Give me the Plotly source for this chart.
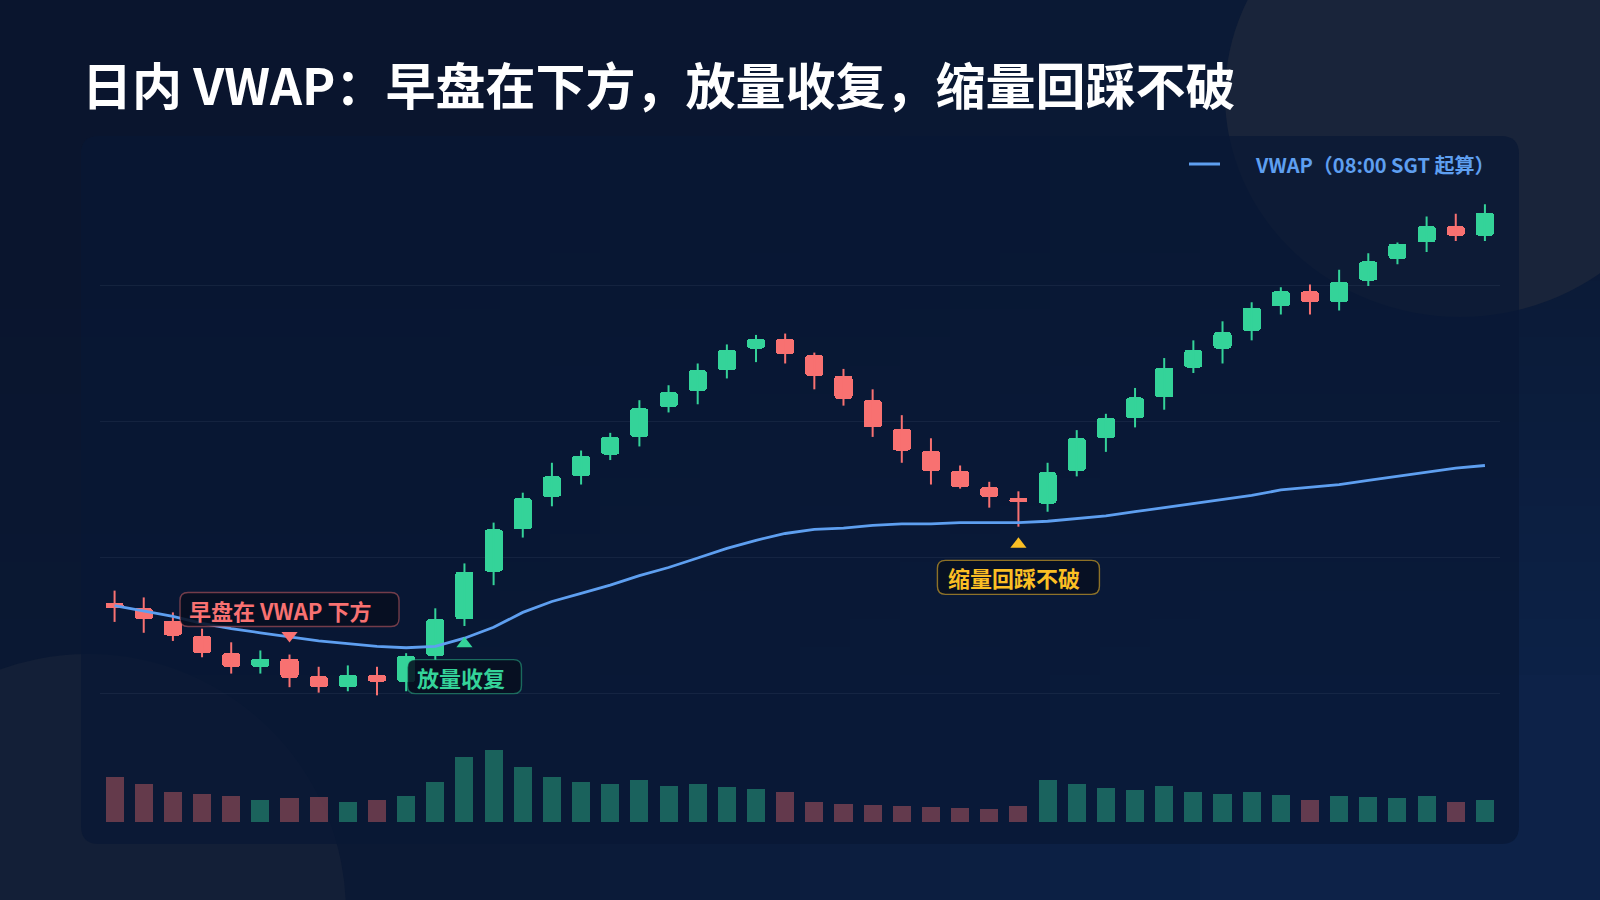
import base64
import struct
import zlib
import plotly.graph_objects as go

# ---------------- data ----------------
times = ["08:00", "08:05", "08:10", "08:15", "08:20", "08:25", "08:30", "08:35", "08:40", "08:45", "08:50", "08:55",
         "09:00", "09:05", "09:10", "09:15", "09:20", "09:25", "09:30", "09:35", "09:40", "09:45", "09:50", "09:55",
         "10:00", "10:05", "10:10", "10:15", "10:20", "10:25", "10:30", "10:35", "10:40", "10:45", "10:50", "10:55",
         "11:00", "11:05", "11:10", "11:15", "11:20", "11:25", "11:30", "11:35", "11:40", "11:45", "11:50", "11:55"]

open_ = [100.67, 100.63, 100.54, 100.43, 100.30, 100.20, 100.26, 100.13, 100.05, 100.14, 100.09, 100.28,
         100.55, 100.90, 101.21, 101.45, 101.60, 101.76, 101.89, 102.11, 102.23, 102.38, 102.54, 102.61,
         102.49, 102.34, 102.16, 101.95, 101.79, 101.64, 101.52, 101.44, 101.40, 101.64, 101.88, 102.03,
         102.18, 102.40, 102.54, 102.67, 102.85, 102.96, 102.88, 103.04, 103.20, 103.32, 103.44, 103.37]
high = [100.76, 100.71, 100.60, 100.48, 100.38, 100.32, 100.29, 100.20, 100.21, 100.20, 100.30, 100.63,
        100.96, 101.26, 101.48, 101.70, 101.79, 101.92, 102.16, 102.27, 102.43, 102.57, 102.64, 102.65,
        102.51, 102.39, 102.24, 102.05, 101.88, 101.68, 101.56, 101.49, 101.70, 101.94, 102.06, 102.25,
        102.47, 102.60, 102.74, 102.88, 102.99, 103.01, 103.12, 103.24, 103.32, 103.51, 103.53, 103.60]
low = [100.53, 100.45, 100.39, 100.27, 100.15, 100.15, 100.05, 100.01, 100.02, 99.99, 100.02, 100.25,
       100.50, 100.80, 101.15, 101.38, 101.54, 101.72, 101.82, 102.07, 102.13, 102.32, 102.44, 102.43,
       102.24, 102.12, 101.89, 101.70, 101.54, 101.51, 101.37, 101.23, 101.34, 101.60, 101.78, 101.96,
       102.09, 102.36, 102.43, 102.60, 102.79, 102.79, 102.82, 103.00, 103.16, 103.25, 103.33, 103.33]
close = [100.63, 100.55, 100.43, 100.30, 100.20, 100.26, 100.12, 100.05, 100.14, 100.09, 100.28, 100.55,
         100.90, 101.21, 101.44, 101.60, 101.75, 101.89, 102.10, 102.22, 102.38, 102.53, 102.61, 102.50,
         102.34, 102.17, 101.96, 101.79, 101.64, 101.52, 101.45, 101.41, 101.63, 101.88, 102.03, 102.18,
         102.40, 102.53, 102.66, 102.84, 102.96, 102.88, 103.03, 103.18, 103.31, 103.44, 103.37, 103.54]
volume = [45, 38, 30, 28, 26, 22, 24, 25, 20, 22, 26, 40,
          65, 72, 55, 45, 40, 38, 42, 36, 38, 35, 33, 30,
          20, 18, 17, 16, 15, 14, 13, 16, 42, 38, 34, 32,
          36, 30, 28, 30, 27, 22, 26, 25, 24, 26, 20, 22]
vwap = [100.65, 100.61, 100.57, 100.52, 100.48, 100.45, 100.42, 100.39, 100.37, 100.35, 100.34, 100.35,
        100.41, 100.49, 100.60, 100.68, 100.74, 100.80, 100.87, 100.93, 101.00, 101.07, 101.13, 101.18,
        101.21, 101.22, 101.24, 101.25, 101.25, 101.26, 101.26, 101.26, 101.27, 101.29, 101.31, 101.34,
        101.37, 101.40, 101.43, 101.46, 101.50, 101.52, 101.54, 101.57, 101.60, 101.63, 101.66, 101.68]

note_index = [6, 12, 31]
note_price = [100.43, 100.37, 101.10]
note_text = ["早盘在 VWAP 下方", "放量收复", "缩量回踩不破"]
note_dir = ["down", "up", "up"]

grid_prices = [100, 101, 102, 103]

title_text = "日内 VWAP：早盘在下方，放量收复，缩量回踩不破"
legend_text = "VWAP（08:00 SGT 起算）"

# ---------------- style ----------------
W, H = 1600, 900
FONT = "Noto Sans CJK SC"
UP = "#34d399"
DOWN = "#f87171"
UP_VOL = "rgba(52,211,153,0.40)"
DOWN_VOL = "rgba(248,113,113,0.38)"
BLUE = "#5e9ff0"
AMBER = "#fbbf24"
note_colors = [DOWN, UP, AMBER]
note_borders = ["rgba(248,113,113,0.45)", "rgba(52,211,153,0.45)", "rgba(251,191,36,0.55)"]
note_box_w = [219, 114, 162]
note_box_h = 34
note_shift = [26, -33, -33]
note_text_dx = [-9, -3, -4]


def px_x(p):
    return p / W


def px_y(p):
    return 1 - p / H


def png_uri(rows):
    w = len(rows[0])
    h = len(rows)
    raw = b"".join(b"\x00" + bytes([c for px in row for c in px]) for row in rows)

    def chunk(tag, data):
        return struct.pack(">I", len(data)) + tag + data + struct.pack(">I", zlib.crc32(tag + data) & 0xffffffff)

    png = (b"\x89PNG\r\n\x1a\n" + chunk(b"IHDR", struct.pack(">IIBBBBB", w, h, 8, 2, 0, 0, 0))
           + chunk(b"IDAT", zlib.compress(raw)) + chunk(b"IEND", b""))
    return "data:image/png;base64," + base64.b64encode(png).decode()


bg_uri = png_uri([[(10, 21, 46), (11, 26, 54)],
                  [(11, 25, 52), (13, 34, 72)]])


def rrect_pixel(cx, cy, w, h, r):
    x0, x1 = cx - w / 2, cx + w / 2
    y0, y1 = cy - h / 2, cy + h / 2
    return (f"M{x0 + r},{y0} L{x1 - r},{y0} Q{x1},{y0} {x1},{y0 + r} L{x1},{y1 - r} Q{x1},{y1} {x1 - r},{y1} "
            f"L{x0 + r},{y1} Q{x0},{y1} {x0},{y1 - r} L{x0},{y0 + r} Q{x0},{y0} {x0 + r},{y0} Z")


def rrect_paper(x0p, y0p, x1p, y1p, r):
    a, b = px_x(x0p), px_x(x1p)
    top, bot = px_y(y0p), px_y(y1p)
    rx, ry = r / W, r / H
    return (f"M{a + rx},{bot} L{b - rx},{bot} Q{b},{bot} {b},{bot + ry} L{b},{top - ry} Q{b},{top} {b - rx},{top} "
            f"L{a + rx},{top} Q{a},{top} {a},{top - ry} L{a},{bot + ry} Q{a},{bot} {a + rx},{bot} Z")


is_up = [c >= o for o, c in zip(open_, close)]

fig = go.Figure()

# wicks
for flag, col in [(True, UP), (False, DOWN)]:
    wx, wy = [], []
    for t, hi, lo, u in zip(times, high, low, is_up):
        if u == flag:
            wx += [t, t, None]
            wy += [lo, hi, None]
    fig.add_trace(go.Scatter(x=wx, y=wy, mode="lines", line=dict(color=col, width=2),
                             hoverinfo="skip", showlegend=False))

# bodies
fig.add_trace(go.Bar(x=times, y=[abs(c - o) for o, c in zip(open_, close)],
                     base=[min(o, c) for o, c in zip(open_, close)],
                     width=0.62, marker=dict(color=[UP if u else DOWN for u in is_up], line=dict(width=0),
                                             cornerradius=3),
                     hoverinfo="skip", showlegend=False))

# vwap
fig.add_trace(go.Scatter(x=times, y=vwap, mode="lines", line=dict(color=BLUE, width=2.8),
                         name=legend_text, hoverinfo="skip", showlegend=False))

# markers
fig.add_trace(go.Scatter(x=[times[i] for i in note_index], y=note_price, mode="markers",
                         marker=dict(symbol=["triangle-down" if d == "down" else "triangle-up" for d in note_dir],
                                     size=14, color=note_colors, line=dict(width=0)),
                         hoverinfo="skip", showlegend=False))

# volume
fig.add_trace(go.Bar(x=times, y=volume, xaxis="x2", yaxis="y2", width=0.62,
                     marker=dict(color=[UP_VOL if u else DOWN_VOL for u in is_up], line=dict(width=0)),
                     hoverinfo="skip", showlegend=False))

shapes = [
    dict(type="circle", xref="paper", yref="paper", layer="below",
         x0=px_x(1225), x1=px_x(1695), y0=px_y(317), y1=px_y(-127),
         fillcolor="#19243a", line=dict(width=0)),
    dict(type="circle", xref="paper", yref="paper", layer="below",
         x0=px_x(88 - 258), x1=px_x(88 + 258), y0=px_y(912 + 258), y1=px_y(912 - 258),
         fillcolor="#131f37", line=dict(width=0)),
    dict(type="path", xref="paper", yref="paper", layer="below",
         path=rrect_paper(81, 136, 1519, 844, 18),
         fillcolor="rgba(9,24,52,0.72)", line=dict(width=0)),
    # legend line
    dict(type="line", xref="paper", yref="paper", layer="above",
         x0=px_x(1189), x1=px_x(1220), y0=px_y(164), y1=px_y(164),
         line=dict(color=BLUE, width=3)),
]

annotations = [
    dict(xref="paper", yref="paper", x=px_x(1253), y=px_y(164), xanchor="left", yanchor="middle",
         text=legend_text, showarrow=False,
         font=dict(family=FONT, size=20, color=BLUE, weight=700)),
]

for k, i in enumerate(note_index):
    shapes.append(dict(type="path", xref="x", yref="y", xsizemode="pixel", ysizemode="pixel",
                       xanchor=times[i], yanchor=note_price[k], layer="above",
                       path=rrect_pixel(0, note_shift[k], note_box_w[k], note_box_h, 8),
                       fillcolor="rgba(7,15,32,0.88)", line=dict(color=note_borders[k], width=1.4)))
    annotations.append(dict(xref="x", yref="y", x=times[i], y=note_price[k], yshift=note_shift[k],
                            xshift=note_text_dx[k],
                            xanchor="center", yanchor="middle", text=note_text[k], showarrow=False,
                            font=dict(family=FONT, size=22, color=note_colors[k], weight=700)))

axis_common = dict(type="category", categoryorder="array", categoryarray=times, range=[-0.5, 47.5],
                   showticklabels=False, showgrid=False, zeroline=False, showline=False, ticks="",
                   fixedrange=True)

fig.update_layout(
    width=W, height=H, autosize=False,
    margin=dict(l=0, r=0, t=0, b=0),
    paper_bgcolor="#0a1732", plot_bgcolor="rgba(0,0,0,0)",
    barmode="overlay", bargap=0,
    showlegend=False,
    hovermode=False,
    title=dict(text=title_text, x=px_x(82), y=px_y(87), xref="container", yref="container",
               xanchor="left", yanchor="middle",
               font=dict(family=FONT, size=50, color="#ffffff", weight=700)),
    xaxis=dict(domain=[px_x(100), px_x(1499.5)], anchor="y", **axis_common),
    yaxis=dict(domain=[px_y(705), px_y(180)], range=[99.919, 103.779], tickvals=grid_prices,
               showticklabels=False, showgrid=True, gridcolor="rgba(148,163,184,0.09)", gridwidth=1,
               zeroline=False, showline=False, ticks="", anchor="x", fixedrange=True),
    xaxis2=dict(domain=[px_x(100), px_x(1499.5)], anchor="y2", matches="x", **axis_common),
    yaxis2=dict(domain=[px_y(822), px_y(722)], range=[0, 100], showticklabels=False, showgrid=False,
                zeroline=False, showline=False, ticks="", anchor="x2", fixedrange=True),
    images=[dict(source=bg_uri, xref="paper", yref="paper", x=0, y=1, sizex=1, sizey=1,
                 xanchor="left", yanchor="top", sizing="stretch", layer="below")],
    shapes=shapes,
    annotations=annotations,
    font=dict(family=FONT),
)

fig.write_html("out.html", config={"displayModeBar": False, "staticPlot": True},
               post_script="document.body.style.margin='0';document.body.style.background='#0a1732';")
